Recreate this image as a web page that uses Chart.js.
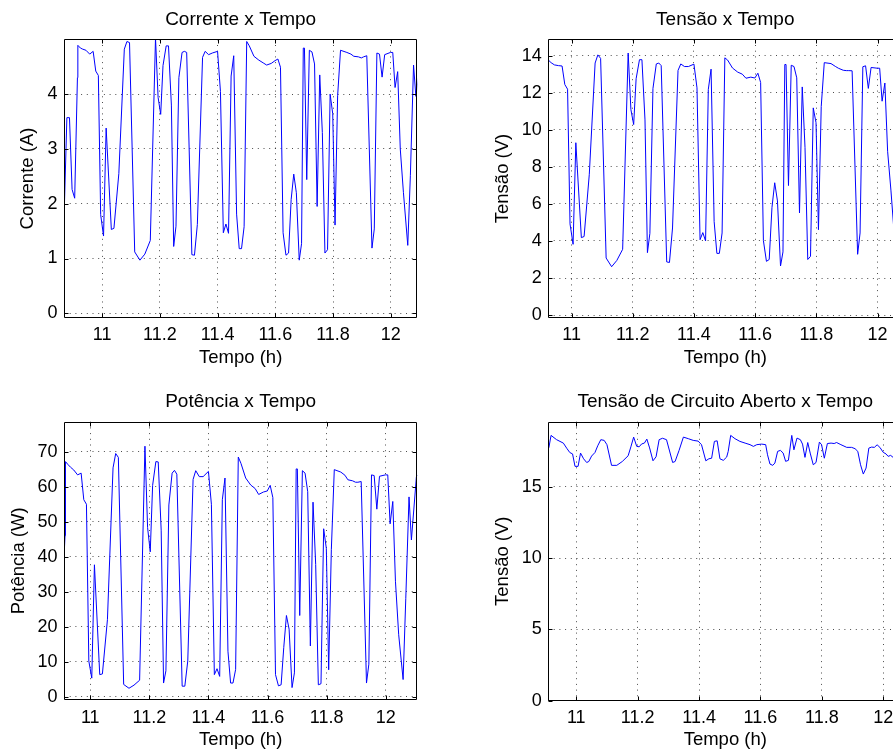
<!DOCTYPE html>
<html lang="pt">
<head>
<meta charset="UTF-8">
<title>Corrente, Tensão e Potência x Tempo</title>
<script src="https://cdn.jsdelivr.net/npm/chart.js@4"></script>
<style>
  html, body { margin: 0; padding: 0; background: #fff; overflow: hidden; }
  body { width: 893px; height: 750px; position: relative; }
  canvas { position: absolute; }
</style>
</head>
<body>
<canvas id="corrente" width="440" height="375" style="left:0;top:0"></canvas>
<canvas id="tensao" width="500" height="375" style="left:440px;top:0"></canvas>
<canvas id="potencia" width="440" height="380" style="left:0;top:375px"></canvas>
<canvas id="circuitoAberto" width="500" height="380" style="left:440px;top:375px"></canvas>

<script>
// tempo (h) das medições de corrente, tensão e potência
const tempo = [
  10.868, 10.878, 10.887, 10.896, 10.905, 10.9145, 10.916, 10.925, 10.933, 10.944,
  10.957, 10.969, 10.978, 10.987, 10.995, 11.005, 11.014, 11.032, 11.041, 11.058,
  11.077, 11.086, 11.095, 11.113, 11.131, 11.148, 11.167, 11.185, 11.194, 11.203,
  11.211, 11.222, 11.230, 11.240, 11.248, 11.256, 11.266, 11.277, 11.285, 11.293,
  11.311, 11.320, 11.330, 11.348, 11.357, 11.369, 11.382, 11.400, 11.410, 11.420,
  11.429, 11.438, 11.447, 11.456, 11.466, 11.475, 11.483, 11.492, 11.501, 11.510,
  11.526, 11.543, 11.558, 11.570, 11.586, 11.599, 11.609, 11.618, 11.627, 11.637,
  11.646, 11.655, 11.664, 11.673, 11.683, 11.691, 11.697, 11.701, 11.709, 11.718,
  11.727, 11.736, 11.745, 11.754, 11.763, 11.772, 11.781, 11.790, 11.799, 11.807,
  11.816, 11.826, 11.848, 11.862, 11.872, 11.888, 11.898, 11.906, 11.917, 11.935,
  11.943, 11.952, 11.961, 11.970, 11.979, 11.999, 12.007, 12.015, 12.024, 12.033,
  12.044, 12.059, 12.068, 12.079, 12.087, 12.104, 12.108
];

// corrente (A)
const corrente = [
  1.70, 3.57, 3.57, 2.26, 2.10, 4.30, 4.89, 4.84, 4.82, 4.80,
  4.73, 4.78, 4.42, 4.34, 1.80, 1.41, 3.38, 1.53, 1.55, 2.55,
  4.82, 4.96, 4.94, 1.12, 0.97, 1.08, 1.33, 5.02, 3.94, 3.63,
  4.52, 4.88, 4.88, 3.80, 1.22, 1.59, 4.30, 4.76, 4.78, 4.76,
  1.07, 1.06, 1.62, 4.67, 4.78, 4.72, 4.75, 4.78, 4.05, 1.47,
  1.63, 1.46, 4.33, 4.70, 1.81, 1.18, 1.18, 1.58, 4.96, 4.88,
  4.69, 4.62, 4.57, 4.53, 4.56, 4.61, 4.64, 4.49, 1.47, 1.06,
  1.10, 2.08, 2.54, 2.20, 0.97, 1.27, 4.84, 4.84, 2.44, 4.80,
  4.77, 4.55, 1.95, 4.35, 3.30, 1.10, 1.16, 4.00, 3.64, 1.61,
  3.97, 4.80, 4.76, 4.73, 4.69, 4.68, 4.66, 4.68, 4.70, 1.19,
  1.54, 4.75, 4.73, 4.31, 4.72, 4.76, 4.76, 4.12, 4.41, 3.00,
  2.20, 1.24, 2.51, 4.53, 3.96, 4.60, 4.62
];

// tensão (V)
const tensao = [
  13.9, 13.8, 13.8, 13.8, 13.8, 13.8, 13.85, 13.75, 13.62, 13.50,
  13.46, 13.44, 12.44, 12.19, 4.92, 3.82, 9.30, 4.18, 4.24, 7.6,
  13.60, 14.04, 13.85, 3.08, 2.61, 2.95, 3.55, 14.14, 11.08, 10.28,
  12.75, 13.78, 13.78, 10.53, 3.37, 4.41, 12.22, 13.55, 13.60, 13.46,
  2.87, 2.84, 4.70, 13.20, 13.55, 13.41, 13.41, 13.54, 12.26, 4.07,
  4.45, 4.00, 12.18, 13.27, 5.05, 3.33, 3.33, 4.43, 13.88, 13.76,
  13.33, 13.11, 13.00, 12.78, 12.84, 12.79, 13.05, 12.55, 4.02, 2.90,
  3.00, 5.8, 7.14, 6.16, 2.65, 3.41, 13.52, 13.52, 6.99, 13.48,
  13.41, 12.80, 5.51, 12.31, 9.05, 3.00, 3.17, 11.18, 10.38, 4.61,
  11.25, 13.62, 13.57, 13.42, 13.32, 13.21, 13.19, 13.19, 13.18, 3.28,
  4.43, 13.40, 13.45, 12.23, 13.36, 13.32, 13.32, 11.54, 12.52, 8.84,
  6.7, 3.4, 7.0, 12.9, 11.3, 13.3, 13.4
];

// potência (W)
const potencia = [
  23, 49, 49, 31, 29, 46, 67.2, 66.3, 65.6, 64.8,
  63.4, 63.9, 56.3, 55.0, 10.2, 5.3, 37.7, 6.3, 6.5, 22,
  65.4, 69.5, 68.4, 3.5, 2.4, 3.3, 4.7, 71.6, 48.3, 41.4,
  60.4, 67.2, 67.1, 47.6, 3.9, 7.4, 54.8, 63.9, 64.7, 63.6,
  3.0, 3.0, 10.2, 62.1, 64.6, 62.9, 62.9, 64.4, 55.0, 6.3,
  8.0, 5.8, 56.3, 62.5, 13.0, 3.9, 3.9, 7.8, 68.5, 66.7,
  62.5, 60.5, 59.5, 57.8, 58.5, 58.8, 60.4, 56.9, 6.3, 3.1,
  3.4, 14.1, 23.2, 19.3, 2.6, 6.8, 65.1, 65.1, 23.2, 64.6,
  63.9, 58.6, 14.5, 55.6, 37.8, 3.4, 3.7, 48.0, 42.4, 7.7,
  42, 64.9, 64.2, 63.3, 62.0, 61.7, 61.3, 61.3, 61.5, 3.9,
  9.3, 63.4, 63.2, 53.6, 63.0, 63.4, 63.4, 49.4, 55.8, 33,
  17.7, 4.9, 28, 57.1, 44.8, 62.9, 63.3
];

// tensão de circuito aberto: tempo (h) e valor (V)
const tempoCA = [
  10.905, 10.911, 10.918, 10.936, 10.958, 10.969, 10.979, 10.988, 10.996, 11.006,
  11.014, 11.024, 11.034, 11.041, 11.050, 11.061, 11.070, 11.080, 11.091, 11.100,
  11.115, 11.132, 11.150, 11.169, 11.178, 11.187, 11.197, 11.205, 11.213, 11.222,
  11.230, 11.239, 11.250, 11.260, 11.270, 11.281, 11.294, 11.314, 11.322, 11.335,
  11.349, 11.365, 11.381, 11.397, 11.408, 11.422, 11.432, 11.441, 11.450, 11.459,
  11.468, 11.479, 11.490, 11.495, 11.503, 11.517, 11.533, 11.550, 11.566, 11.577,
  11.588, 11.604, 11.617, 11.623, 11.631, 11.640, 11.647, 11.656, 11.665, 11.674,
  11.682, 11.691, 11.702, 11.709, 11.719, 11.730, 11.737, 11.745, 11.754, 11.762,
  11.772, 11.781, 11.792, 11.799, 11.808, 11.818, 11.830, 11.840, 11.848, 11.862,
  11.881, 11.897, 11.908, 11.917, 11.926, 11.935, 11.944, 11.953, 11.962, 11.971,
  11.980, 11.989, 12.000, 12.009, 12.016, 12.024, 12.032, 12.042, 12.052, 12.062
];
const tensaoCA = [
  17.5, 17.76, 18.6, 18.3, 18.06, 17.7, 17.4, 17.3, 16.43, 16.43,
  17.36, 16.96, 16.7, 16.77, 17.15, 17.4, 17.87, 18.3, 18.25, 17.95,
  16.5, 16.5, 16.77, 17.17, 17.8, 18.48, 17.83, 17.8, 18.0, 18.06,
  18.34, 17.72, 16.82, 17.1, 18.3, 18.4, 18.3, 16.7, 16.77, 17.55,
  18.48, 18.37, 18.25, 18.2, 17.95, 16.82, 16.96, 17.0, 18.18, 18.22,
  16.96, 16.85, 17.08, 17.48, 18.6, 18.37, 18.18, 18.06, 17.95, 17.83,
  17.95, 17.99, 17.95, 17.24, 16.59, 16.5, 16.66, 17.48, 17.55, 17.36,
  16.78, 16.85, 18.6, 17.59, 18.41, 18.3, 17.99, 17.06, 18.1, 17.36,
  16.54, 16.7, 18.13, 17.95, 17.0, 18.03, 18.06, 18.03, 18.1, 17.95,
  17.76, 17.76, 17.67, 17.48, 16.54, 15.89, 16.31, 17.71, 17.78, 17.76,
  17.94, 17.76, 17.41, 17.3, 17.13, 17.2, 17.06, 17.1, 16.9, 17.2
];

// marcas dos eixos
const ticksTempo = [11, 11.2, 11.4, 11.6, 11.8, 12];
const ticksCorrente = [0, 1, 2, 3, 4];
const ticksTensao = [0, 2, 4, 6, 8, 10, 12, 14];
const ticksPotencia = [0, 10, 20, 30, 40, 50, 60, 70];
const ticksCA = [0, 5, 10, 15];

Chart.defaults.font.family = '"Liberation Sans", Arial, Helvetica, sans-serif';
Chart.defaults.font.size = 18;
Chart.defaults.color = '#000';

const pontilhado = 'rgba(0,0,0,0.7)';

// moldura fechada e marcas internas (estilo matlab)
const moldura = {
  id: 'moldura',
  afterDatasetsDraw(chart) {
    const { ctx, chartArea: a, scales: { x, y } } = chart;
    const L = Math.round(a.left) + 0.5, R = Math.round(a.right) - 0.5;
    const T = Math.round(a.top) + 0.5, B = Math.round(a.bottom) - 0.5;
    ctx.save();
    ctx.strokeStyle = '#000';
    ctx.lineWidth = 1;
    ctx.beginPath();
    ctx.rect(L, T, R - L, B - T);
    x.ticks.forEach(t => {
      const px = Math.round(x.getPixelForValue(t.value)) + 0.5;
      ctx.moveTo(px, B); ctx.lineTo(px, B - 4);
      ctx.moveTo(px, T); ctx.lineTo(px, T + 4);
    });
    y.ticks.forEach(t => {
      const py = Math.round(y.getPixelForValue(t.value)) + 0.5;
      ctx.moveTo(L, py); ctx.lineTo(L + 4, py);
      ctx.moveTo(R, py); ctx.lineTo(R - 4, py);
    });
    ctx.stroke();
    ctx.restore();
  }
};

function painel(id, p) {
  return new Chart(document.getElementById(id), {
    type: 'line',
    data: {
      datasets: [{
        data: p.xs.map((t, i) => ({ x: t, y: p.ys[i] })),
        borderColor: '#0000ff',
        borderWidth: 1,
        pointRadius: 0,
        tension: 0,
        fill: false
      }]
    },
    options: {
      responsive: false,
      devicePixelRatio: 1,
      animation: false,
      events: [],
      layout: { padding: { left: 0, right: p.direita, top: 0, bottom: 0 } },
      plugins: {
        legend: { display: false },
        tooltip: { enabled: false },
        title: {
          display: true, text: p.titulo, fullSize: false, color: '#000',
          font: { size: 19, weight: 'normal' },
          padding: { top: p.tituloTopo, bottom: p.tituloBase }
        }
      },
      scales: {
        x: {
          type: 'linear', min: p.xMin, max: p.xMax,
          afterFit: s => { s.height = p.alturaX; },
          afterBuildTicks: s => { s.ticks = ticksTempo.map(v => ({ value: v })); },
          ticks: { padding: p.padX, autoSkip: false, maxRotation: 0, callback: v => String(v) },
          grid: { color: pontilhado, lineWidth: 1, drawTicks: false },
          border: { display: false, dash: [1, 4.7] },
          title: { display: true, text: 'Tempo (h)', font: { size: 18.5 },
                   padding: { top: 0, bottom: p.tituloXBase } }
        },
        y: {
          type: 'linear', min: p.yMin, max: p.yMax,
          afterFit: s => { s.width = p.larguraY; },
          afterBuildTicks: s => { s.ticks = p.ticksY.map(v => ({ value: v })); },
          ticks: { padding: 6.5, autoSkip: false, callback: v => String(v) },
          grid: { color: pontilhado, lineWidth: 1, drawTicks: false },
          border: { display: false, dash: [1, 4.7] },
          title: { display: true, text: p.rotuloY, font: { size: 18.5 },
                   padding: { top: p.tituloYTopo, bottom: 0 } }
        }
      }
    },
    plugins: [moldura]
  });
}

painel('corrente', {
  titulo: 'Corrente x Tempo', rotuloY: 'Corrente (A)',
  xs: tempo, ys: corrente, ticksY: ticksCorrente,
  xMin: 10.868, xMax: 12.092, yMin: -0.08, yMax: 5.0,
  larguraY: 64, direita: 22.7, alturaX: 57.3,
  tituloTopo: 8.0, tituloBase: 8.5, padX: 6.6, tituloXBase: 5.9, tituloYTopo: 17.1
});

painel('tensao', {
  titulo: 'Tensão x Tempo', rotuloY: 'Tensão (V)',
  xs: tempo, ys: tensao, ticksY: ticksTensao,
  xMin: 10.924, xMax: 12.081, yMin: -0.14, yMax: 14.88,
  larguraY: 108.3, direita: 37.7, alturaX: 57.3,
  tituloTopo: 8.0, tituloBase: 8.5, padX: 6.6, tituloXBase: 5.9, tituloYTopo: 51.4
});

painel('potencia', {
  titulo: 'Potência x Tempo', rotuloY: 'Potência (W)',
  xs: tempo, ys: potencia, ticksY: ticksPotencia,
  xMin: 10.911, xMax: 12.107, yMin: -0.95, yMax: 78.6,
  larguraY: 64, direita: 22.7, alturaX: 55,
  tituloTopo: 15.3, tituloBase: 8.6, padX: 6.9, tituloXBase: 4.2, tituloYTopo: 8.1
});

painel('circuitoAberto', {
  titulo: 'Tensão de Circuito Aberto x Tempo', rotuloY: 'Tensão (V)',
  xs: tempoCA, ys: tensaoCA, ticksY: ticksCA,
  xMin: 10.909, xMax: 12.062, yMin: 0, yMax: 19.56,
  larguraY: 108.3, direita: 37.7, alturaX: 54.3,
  tituloTopo: 15.3, tituloBase: 8.6, padX: 6.2, tituloXBase: 4.2, tituloYTopo: 51.4
});
</script>
</body>
</html>
